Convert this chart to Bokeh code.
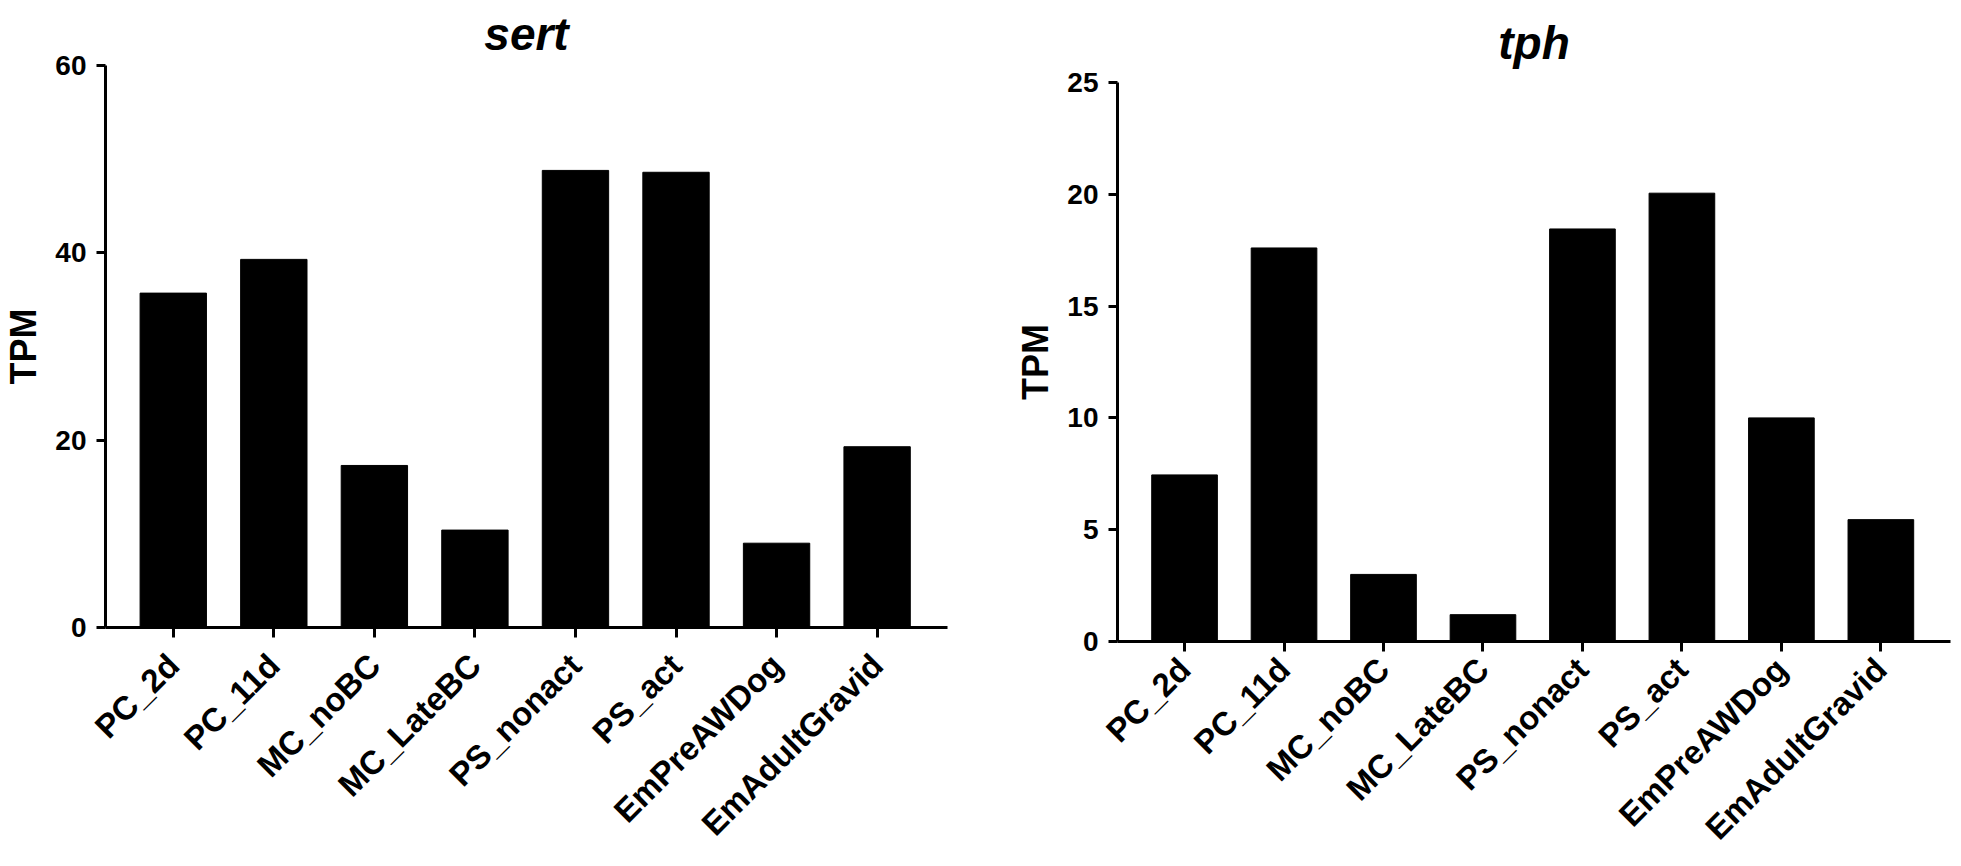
import math
from bokeh.plotting import figure
from bokeh.layouts import row, column
from bokeh.models import Range1d, FixedTicker
from bokeh.embed import file_html
from bokeh.resources import INLINE

categories = ["PC_2d", "PC_11d", "MC_noBC", "MC_LateBC", "PS_nonact", "PS_act", "EmPreAWDog", "EmAdultGravid"]
sert_tpm = [35.7, 39.3, 17.3, 10.4, 48.8, 48.6, 9.0, 19.3]
tph_tpm = [7.45, 17.6, 3.0, 1.2, 18.45, 20.05, 10.0, 5.45]
sert_ticks = [0, 20, 40, 60]
tph_ticks = [0, 5, 10, 15, 20, 25]
y_label = "TPM"

FONT = "Liberation Sans"


def make(title, values, yticks, w, h, bl, br, bt, bb, title_standoff, label_standoff):
    n = len(categories)
    xs = list(range(n))
    x0, x1 = -0.674, (n - 1) + 0.70
    p = figure(width=w, height=h,
               x_range=Range1d(x0, x1), y_range=Range1d(0, yticks[-1]),
               output_backend="svg", toolbar_location=None,
               min_border_left=bl, min_border_top=bt, min_border_right=br, min_border_bottom=bb,
               background_fill_color="white", border_fill_color="white")
    p.outline_line_color = None
    p.grid.visible = False

    p.title.text = title
    p.title.align = "center"
    p.title.standoff = title_standoff
    p.title.text_font = FONT
    p.title.text_font_size = "46px"
    p.title.text_font_style = "bold italic"
    p.title.text_color = "black"

    p.vbar(x=xs, top=values, bottom=0, width=0.66, fill_color="black", line_color="black", line_width=1)

    ax = p.xaxis[0]
    ax.ticker = FixedTicker(ticks=xs)
    ax.major_label_overrides = {i: c for i, c in enumerate(categories)}
    ax.major_label_orientation = math.pi / 4
    ax.axis_line_width = 3
    ax.axis_line_color = "black"
    ax.major_tick_line_width = 3
    ax.major_tick_out = 10
    ax.major_tick_in = 0
    ax.minor_tick_line_color = None
    ax.major_label_standoff = label_standoff
    ax.major_label_text_font = FONT
    ax.major_label_text_font_size = "33px"
    ax.major_label_text_font_style = "bold"
    ax.major_label_text_color = "black"

    ay = p.yaxis[0]
    ay.ticker = FixedTicker(ticks=yticks)
    ay.axis_line_width = 3
    ay.axis_line_color = "black"
    ay.major_tick_line_width = 3
    ay.major_tick_out = 9
    ay.major_tick_in = 0
    ay.minor_tick_line_color = None
    ay.major_label_standoff = 10
    ay.major_label_text_font = FONT
    ay.major_label_text_font_size = "28px"
    ay.major_label_text_font_style = "bold"
    ay.major_label_text_color = "black"
    ay.axis_label = y_label
    ay.axis_label_text_font = FONT
    ay.axis_label_text_font_size = "36px"
    ay.axis_label_text_font_style = "bold"
    ay.axis_label_text_color = "black"
    ay.axis_label_standoff = 8
    return p


# left frame: x 102..947, y 65..627 ; right frame: x 1117..1950, y 80..641
p1 = make("sert", sert_tpm, sert_ticks, 1000, 858, 102, 53, 65, 231, 11, 22)
p2 = make("tph", tph_tpm, tph_ticks, 953, 862, 117, 3, 80, 221, 28, 12)

layout = row(column(p1), column(p2))
open("out.html", "w").write(file_html(layout, INLINE))
